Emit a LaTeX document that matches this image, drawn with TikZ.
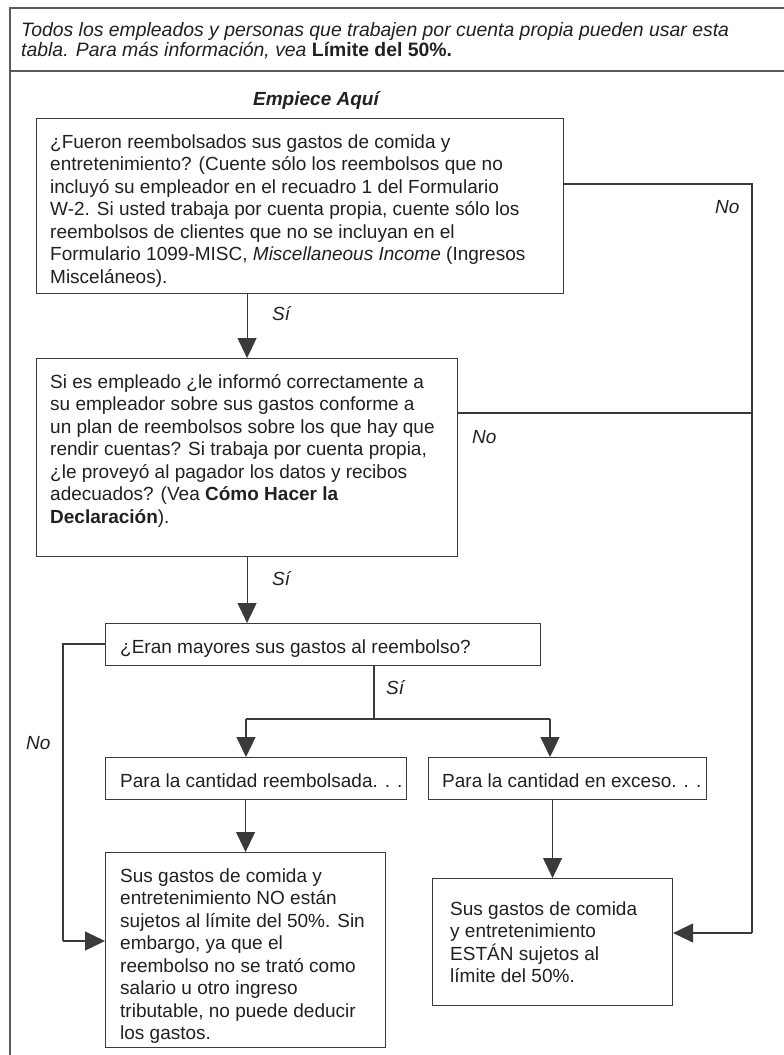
\documentclass[tikz,border=0pt]{standalone}
\usepackage{fontspec}
\setmainfont{Liberation Sans}
\usetikzlibrary{arrows.meta}
\definecolor{ink}{HTML}{231F20}
\definecolor{framec}{HTML}{5A5A5A}
\definecolor{linec}{HTML}{3A3A3A}
\newcommand\fs{\rule{0pt}{15pt}}
\tikzset{
  box/.style={draw=linec, line width=1.1pt, inner sep=0pt, anchor=north west, fill=none},
  txt/.style={font=\fontsize{19}{22.5}\selectfont, text=ink, align=left, inner sep=0pt, anchor=north west},
  lbl/.style={font=\fontsize{19}{22.5}\selectfont\itshape, text=ink, inner sep=0pt, anchor=base west},
  conn/.style={draw=linec, line width=1.1pt},
  arr/.style={conn, -{Triangle[length=20pt,width=19pt]}},
  frame/.style={draw=framec, line width=1.6pt}
}
\begin{document}
\begin{tikzpicture}[x=1pt,y=-1pt]
\useasboundingbox (0,0) rectangle (784,1055);
% frame
\coordinate (ftl) at (10,8);
\coordinate (ftr) at (784,8);
\coordinate (fbl) at (10,1055);
\coordinate (fdl) at (10,71);
\coordinate (fdr) at (784,71);
\draw[frame] (fbl) -- (ftl) -- (ftr);
\draw[frame] (fdl) -- (fdr);
% header
\node[txt, font=\fontsize{19.4}{20.5}\selectfont\itshape] (head) at (21,21)
 {\fs Todos los empleados y personas que trabajen por cuenta propia pueden usar esta\\
  tabla. Para más información, vea {\upshape\bfseries Límite del 50\%.}};
\node[txt, font=\fontsize{19}{22.5}\selectfont\bfseries\itshape, anchor=base] (start) at (316,105) {Empiece Aquí};
% boxes
\node[box, minimum width=527pt, minimum height=175pt] (b1) at (36,118) {};
\node[txt] (t1) at (50,133)
 {\fs ¿Fueron reembolsados sus gastos de comida y\\
  entretenimiento? (Cuente sólo los reembolsos que no\\
  incluyó su empleador en el recuadro 1 del Formulario\\
  W-2. Si usted trabaja por cuenta propia, cuente sólo los\\
  reembolsos de clientes que no se incluyan en el\\
  Formulario 1099-MISC, \textit{Miscellaneous Income} (Ingresos\\
  Misceláneos).};
\node[box, minimum width=421pt, minimum height=198pt] (b2) at (36,358) {};
\node[txt] (t2) at (50,373)
 {\fs Si es empleado ¿le informó correctamente a\\
  su empleador sobre sus gastos conforme a\\
  un plan de reembolsos sobre los que hay que\\
  rendir cuentas? Si trabaja por cuenta propia,\\
  ¿le proveyó al pagador los datos y recibos\\
  adecuados? (Vea \textbf{Cómo Hacer la}\\
  \textbf{Declaración}).};
\node[box, minimum width=435pt, minimum height=42pt] (b3) at (105,623) {};
\node[txt] (t3) at (120,638) {\fs ¿Eran mayores sus gastos al reembolso?};
\node[box, minimum width=301pt, minimum height=42pt] (b4a) at (105,757) {};
\node[txt] (t4a) at (120,772) {\fs Para la cantidad reembolsada. . .};
\node[box, minimum width=278pt, minimum height=42pt] (b4b) at (428,757) {};
\node[txt] (t4b) at (442,772) {\fs Para la cantidad en exceso. . .};
\node[box, minimum width=280pt, minimum height=195pt] (b5a) at (105,852) {};
\node[txt] (t5a) at (120,867)
 {\fs Sus gastos de comida y\\
  entretenimiento NO están\\
  sujetos al límite del 50\%. Sin\\
  embargo, ya que el\\
  reembolso no se trató como\\
  salario u otro ingreso\\
  tributable, no puede deducir\\
  los gastos.};
\node[box, minimum width=240pt, minimum height=127pt] (b5b) at (432,878) {};
\node[txt] (t5b) at (450,900)
 {\fs Sus gastos de comida\\
  y entretenimiento\\
  ESTÁN sujetos al\\
  límite del 50\%.};
% connectors
\draw[arr] (b1.south -| b2.north) -- (b2.north);
\node[lbl] (s1) at (272,320) {Sí};
\draw[arr] (b2.south) -- (b3.north -| b2.south);
\node[lbl] (s2) at (272,585) {Sí};
% right No path
\coordinate (r1) at (752,184);
\coordinate (r2) at (752,413);
\coordinate (r3) at (752,933);
\draw[conn] (b1.east |- r1) -- (r1) -- (r3);
\draw[conn] (b2.east |- r2) -- (r2);
\draw[arr] (r3) -- (b5b.east |- r3);
\node[lbl] (n1) at (715,213) {No};
\node[lbl] (n2) at (472,443) {No};
% left No path
\coordinate (l1) at (63,644);
\coordinate (l2) at (63,941);
\draw[conn] (b3.west |- l1) -- (l1) -- (l2);
\draw[arr] (l2) -- (b5a.west |- l2);
\node[lbl] (n3) at (26,749) {No};
% split
\coordinate (sp) at (374,719);
\coordinate (spl) at (246,719);
\coordinate (spr) at (550,719);
\draw[conn] (b3.south -| sp) -- (sp);
\draw[conn] (spl) -- (spr);
\draw[arr] (spl) -- (b4a.north -| spl);
\draw[arr] (spr) -- (b4b.north -| spr);
\node[lbl] (s3) at (386,694) {Sí};
\draw[arr] (b4a.south -| b5a.north) -- (b5a.north);
\draw[arr] (b4b.south -| b5b.north) -- (b5b.north);
\end{tikzpicture}
\end{document}
